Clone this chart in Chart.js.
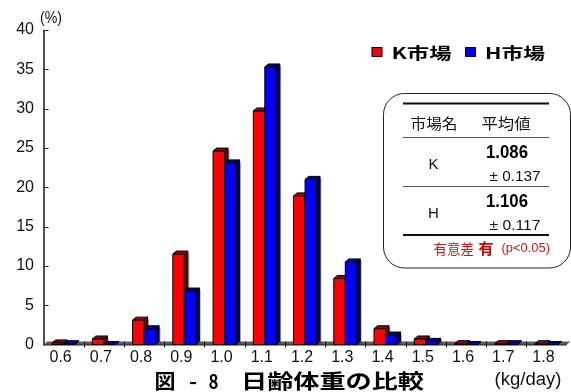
<!DOCTYPE html>
<html>
<head>
<meta charset="utf-8">
<script src="https://cdn.jsdelivr.net/npm/chart.js@4"></script>
<style>
  html, body { margin: 0; padding: 0; background: #fff; }
  #wrap { width: 571px; height: 392px; position: relative; }
</style>
</head>
<body>
<div id="wrap"><canvas id="c" width="571" height="392"></canvas></div>
<script>
// Daily weight gain classes (kg/day)
const categories = ['0.6', '0.7', '0.8', '0.9', '1.0', '1.1', '1.2', '1.3', '1.4', '1.5', '1.6', '1.7', '1.8'];
const marketNames = ['K市場', 'H市場'];
// Share of animals per class (%)
const kShare = [0.2, 0.7, 3.1, 11.5, 24.6, 29.7, 18.9, 8.4, 2.0, 0.7, 0.1, 0.1, 0.1];
const hShare = [0.1, 0.0, 2.0, 6.8, 23.1, 35.3, 21.0, 10.5, 1.2, 0.4, 0.0, 0.1, 0.0];
const yMin = 0, yMax = 40, yStep = 5;
// Summary table
const tableHeader = ['市場名', '平均値'];
const tableMarkets = ['K', 'H'];
const tableMeans = ['1.086', '1.106'];
const tableSDs = ['0.137', '0.117'];
const signifLabel = '有意差';
const signifMark = '有';
const signifLevel = '(p<0.05)';
const chartTitle = ['図', '-', '8', '日齢体重の比較'];
const xUnit = '(kg/day)';
const yUnit = '(%)';

const LAT = '"Liberation Sans", Arial, sans-serif';
const CJK = '"Noto Sans CJK JP", "Noto Sans", sans-serif';

const faces = [
  { front: '#ff0000', top: '#a00000', side: '#7a0000' },
  { front: '#0000ff', top: '#0000b8', side: '#000070' }
];
const DX = 3.5, DY = 3;

// Draw text, optionally stretched horizontally to a given width
function putText(ctx, str, x, y, font, color, align, width) {
  ctx.save();
  ctx.font = font;
  ctx.fillStyle = color;
  ctx.textBaseline = 'middle';
  ctx.textAlign = 'left';
  const w = ctx.measureText(str).width;
  const sx = width ? width / w : 1;
  const ww = w * sx;
  const left = align === 'center' ? x - ww / 2 : align === 'right' ? x - ww : x;
  ctx.translate(left, y);
  ctx.scale(sx, 1);
  ctx.fillText(str, 0, 0);
  ctx.restore();
}

const scene = {
  id: 'scene',
  beforeDatasetsDraw(chart) {
    const { ctx, chartArea: a, scales: { x, y } } = chart;
    const base = y.getPixelForValue(0);
    ctx.save();
    // floor
    ctx.beginPath();
    ctx.moveTo(a.left, base + 0.5);
    ctx.lineTo(a.right, base + 0.5);
    ctx.lineTo(a.right + DX, base - DY);
    ctx.lineTo(a.left + DX, base - DY);
    ctx.closePath();
    ctx.fillStyle = '#5c5c5c';
    ctx.fill();
    ctx.strokeStyle = '#222';
    ctx.lineWidth = 1;
    ctx.beginPath();
    ctx.moveTo(a.left, base + 0.5);
    ctx.lineTo(a.right, base + 0.5);
    ctx.stroke();
    // x tick marks at class boundaries
    ctx.strokeStyle = '#111';
    for (let i = 1; i < categories.length; i++) {
      const px = Math.round((x.getPixelForValue(i - 1) + x.getPixelForValue(i)) / 2) + 0.5;
      ctx.beginPath();
      ctx.moveTo(px, base - 3);
      ctx.lineTo(px, base + 3);
      ctx.stroke();
    }
    // y axis line and inner ticks
    ctx.strokeStyle = '#222';
    ctx.lineWidth = 1.6;
    ctx.beginPath();
    ctx.moveTo(a.left + 0.5, y.getPixelForValue(yMax));
    ctx.lineTo(a.left + 0.5, base + 1);
    ctx.stroke();
    ctx.lineWidth = 1;
    for (let v = yMin + yStep; v <= yMax; v += yStep) {
      const py = Math.round(y.getPixelForValue(v)) + 0.5;
      ctx.beginPath();
      ctx.moveTo(a.left, py);
      ctx.lineTo(a.left + 5, py);
      ctx.stroke();
    }
    ctx.restore();
  },
  afterDatasetsDraw(chart) {
    const { ctx } = chart;
    ctx.save();
    ctx.lineWidth = 1;
    ctx.strokeStyle = '#000';
    ctx.lineJoin = 'round';
    const nCat = categories.length;
    for (let i = 0; i < nCat; i++) {
      chart.data.datasets.forEach((ds, di) => {
        const el = chart.getDatasetMeta(di).data[i];
        const p = el.getProps(['x', 'y', 'base', 'width'], true);
        const x0 = p.x - p.width / 2, x1 = p.x + p.width / 2;
        const top = p.y, base = p.base;
        const f = faces[di];
        // shadow
        ctx.fillStyle = 'rgba(0,0,0,0.28)';
        ctx.fillRect(x1 + DX, top - DY + 2, 1.5, base - top);
        // side
        ctx.beginPath();
        ctx.moveTo(x1, top); ctx.lineTo(x1 + DX, top - DY);
        ctx.lineTo(x1 + DX, base - DY); ctx.lineTo(x1, base);
        ctx.closePath();
        ctx.fillStyle = f.side; ctx.fill(); ctx.stroke();
        // top
        ctx.beginPath();
        ctx.moveTo(x0, top); ctx.lineTo(x1, top);
        ctx.lineTo(x1 + DX, top - DY); ctx.lineTo(x0 + DX, top - DY);
        ctx.closePath();
        ctx.fillStyle = f.top; ctx.fill(); ctx.stroke();
        // front
        if (base - top > 0.5) {
          ctx.fillStyle = f.front;
          ctx.fillRect(x0, top, x1 - x0, base - top);
          ctx.strokeRect(x0, top, x1 - x0, base - top);
        }
      });
    }
    ctx.restore();
  },
  afterDraw(chart) {
    const { ctx } = chart;
    ctx.save();
    // y unit
    putText(ctx, yUnit, 51, 18.5, '17px ' + LAT, '#111', 'center', 22);
    // legend
    const legendX = [371.5, 465];
    chart.data.datasets.forEach((ds, di) => {
      ctx.fillStyle = faces[di].front;
      ctx.fillRect(legendX[di] + 0.5, 47.5, 10, 9);
      ctx.strokeStyle = '#000';
      ctx.lineWidth = 1;
      ctx.strokeRect(legendX[di] + 0.5, 47.5, 10, 9);
      putText(ctx, ds.label, legendX[di] + 20, 52.5, 'bold 16px ' + CJK, '#000', 'left', 60);
    });
    // summary table box
    ctx.strokeStyle = '#222';
    ctx.lineWidth = 1;
    ctx.beginPath();
    ctx.roundRect(383.5, 93.5, 187, 174.5, 21);
    ctx.stroke();
    const rule = (yy, lw, col) => {
      ctx.strokeStyle = col; ctx.lineWidth = lw;
      ctx.beginPath(); ctx.moveTo(403, yy); ctx.lineTo(549, yy); ctx.stroke();
    };
    rule(103.5, 2, '#111');
    rule(137.5, 1, '#555');
    rule(186.5, 1, '#555');
    rule(235, 2, '#111');
    putText(ctx, tableHeader[0], 434, 123, '15px ' + CJK, '#111', 'center', 47);
    putText(ctx, tableHeader[1], 506, 123, '15px ' + CJK, '#111', 'center', 49);
    const rowY = [165, 213.5];
    tableMarkets.forEach((m, r) => {
      putText(ctx, m, 433.5, rowY[r], '15px ' + LAT, '#111', 'center');
      putText(ctx, tableMeans[r], 507, rowY[r] - 11.5, 'bold 18px ' + LAT, '#000', 'center', 42);
      putText(ctx, '± ' + tableSDs[r], 540.5, rowY[r] + 12, '15px ' + LAT, '#111', 'right', 51);
    });
    putText(ctx, signifLabel, 433.5, 248.5, '14px ' + CJK, '#e01010', 'left', 40.5);
    putText(ctx, signifMark, 478.5, 248, 'bold 15px ' + CJK, '#cc0000', 'left', 15);
    putText(ctx, signifLevel, 501.5, 248.5, '13px ' + LAT, '#e01010', 'left', 48.5);
    // title
    const tf = 'bold 20px ' + CJK;
    putText(ctx, chartTitle[0], 165, 381, tf, '#000', 'center', 21);
    putText(ctx, chartTitle[1], 193, 381, tf, '#000', 'center', 8);
    putText(ctx, chartTitle[2], 213.5, 381, tf, '#000', 'center', 10);
    putText(ctx, chartTitle[3], 241, 381, tf, '#000', 'left', 183);
    // x unit
    putText(ctx, xUnit, 528, 380.5, '18px ' + LAT, '#111', 'center', 67);
    ctx.restore();
  }
};

new Chart(document.getElementById('c'), {
  type: 'bar',
  data: {
    labels: categories,
    datasets: [
      { label: marketNames[0], data: kShare, backgroundColor: 'rgba(0,0,0,0)', borderWidth: 0 },
      { label: marketNames[1], data: hShare, backgroundColor: 'rgba(0,0,0,0)', borderWidth: 0 }
    ]
  },
  options: {
    responsive: false,
    animation: false,
    devicePixelRatio: 1,
    events: [],
    layout: { padding: { left: 0, right: 4.4, top: 30, bottom: 17.5 } },
    datasets: { bar: { categoryPercentage: 0.572, barPercentage: 1.0 } },
    plugins: { legend: { display: false }, tooltip: { enabled: false }, title: { display: false } },
    scales: {
      x: {
        offset: true,
        grid: { display: false, drawTicks: false },
        border: { display: false },
        ticks: { padding: 3, labelOffset: -3, color: '#111', font: { family: LAT, size: 16 }, maxRotation: 0, autoSkip: false },
        afterFit(s) { s.height = 30; }
      },
      y: {
        min: yMin, max: yMax,
        grid: { display: false, drawTicks: false },
        border: { display: false },
        ticks: { stepSize: yStep, padding: 9.5, color: '#111', font: { family: LAT, size: 16 } },
        afterFit(s) { s.width = 43.5; }
      }
    }
  },
  plugins: [scene]
});
</script>
</body>
</html>
